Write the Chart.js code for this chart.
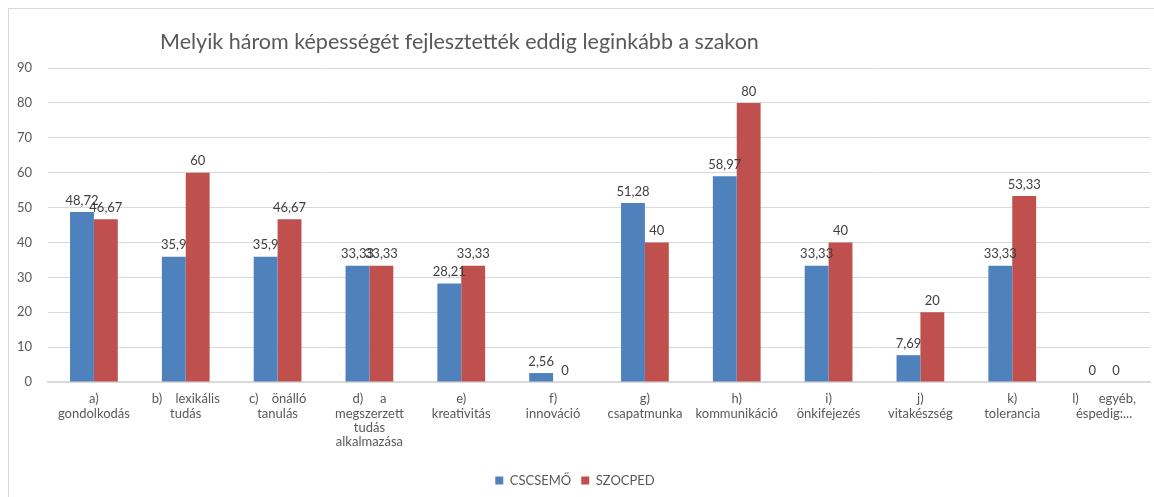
<!DOCTYPE html>
<html>
<head>
<meta charset="utf-8">
<script src="https://cdn.jsdelivr.net/npm/chart.js@4"></script>
<style>
  body { margin: 0; background: #fff; }
  #wrap { position: relative; width: 1154px; height: 497px; overflow: hidden; }
  #frame { position: absolute; left: 8px; top: 8px; width: 1200px; height: 600px;
           border-left: 1px solid #d9d9d9; border-top: 1px solid #d9d9d9; }
</style>
</head>
<body>
<div id="wrap">
  <div id="frame"></div>
  <canvas id="chart" width="1154" height="497"></canvas>
</div>
<script>
var titleText = "Melyik három képességét fejlesztették eddig leginkább a szakon";

var categories = [
  ["a)", "gondolkodás"],
  ["b)    lexikális", "tudás"],
  ["c)    önálló", "tanulás"],
  ["d)     a", "megszerzett", "tudás", "alkalmazása"],
  ["e)", "kreativitás"],
  ["f)", "innováció"],
  ["g)", "csapatmunka"],
  ["h)", "kommunikáció"],
  ["i)", "önkifejezés"],
  ["j)", "vitakészség"],
  ["k)", "tolerancia"],
  ["l)      egyéb,", "éspedig:..."]
];

var cscsemo = [48.72, 35.9, 35.9, 33.33, 28.21, 2.56, 51.28, 58.97, 33.33, 7.69, 33.33, 0];
var szocped = [46.67, 60, 46.67, 33.33, 33.33, 0, 40, 80, 40, 20, 53.33, 0];

var yTicks = [0, 10, 20, 30, 40, 50, 60, 70, 80, 90];

var fontName = "Lato, 'Open Sans', sans-serif";

// title sits left of centre in the original, so draw it by hand
var titlePlugin = {
  id: 'leftTitle',
  afterDraw: function (chart) {
    var ctx = chart.ctx;
    ctx.save();
    ctx.font = "21.5px " + fontName;
    ctx.fillStyle = "#595959";
    ctx.textAlign = "left";
    ctx.textBaseline = "middle";
    ctx.fillText(titleText, 160, 42);
    ctx.restore();
  }
};

// value labels above every bar, with decimal comma
var valuePlugin = {
  id: 'values',
  afterDatasetsDraw: function (chart) {
    var ctx = chart.ctx;
    ctx.save();
    ctx.font = "13px " + fontName;
    ctx.fillStyle = "#404040";
    ctx.textAlign = "center";
    ctx.textBaseline = "bottom";
    chart.data.datasets.forEach(function (ds, i) {
      var meta = chart.getDatasetMeta(i);
      meta.data.forEach(function (bar, j) {
        var txt = String(ds.data[j]).replace('.', ',');
        ctx.fillText(txt, bar.x, bar.y - 5);
      });
    });
    ctx.restore();
  }
};

new Chart(document.getElementById("chart"), {
  type: 'bar',
  data: {
    labels: categories,
    datasets: [
      {
        label: "CSCSEMŐ",
        backgroundColor: "#4f81bd",
        data: cscsemo
      },
      {
        label: "SZOCPED",
        backgroundColor: "#c0504d",
        data: szocped
      }
    ]
  },
  options: {
    responsive: false,
    animation: false,
    layout: { padding: { top: 68, right: 4, left: 0, bottom: 0 } },
    datasets: {
      bar: { categoryPercentage: 0.52, barPercentage: 1.0 }
    },
    plugins: {
      title: { display: false },
      tooltip: { enabled: false },
      legend: {
        position: 'bottom',
        labels: {
          boxWidth: 8,
          boxHeight: 8,
          padding: 10,
          color: "#595959",
          font: { family: fontName, size: 13 }
        }
      }
    },
    scales: {
      x: {
        grid: { display: false, drawTicks: false },
        border: { color: "#d9d9d9", width: 2 },
        ticks: {
          color: "#595959",
          padding: 10,
          maxRotation: 0,
          autoSkip: false,
          font: { family: fontName, size: 13, lineHeight: 1.1 }
        },
        afterFit: function (scale) { scale.height = 82; }
      },
      y: {
        min: 0,
        max: 90,
        afterBuildTicks: function (scale) {
          scale.ticks = yTicks.map(function (v) { return { value: v }; });
        },
        grid: { color: "#d9d9d9", drawTicks: false },
        border: { display: false },
        ticks: {
          color: "#595959",
          padding: 16,
          font: { family: fontName, size: 13 }
        },
        afterFit: function (scale) { scale.width = 48; }
      }
    }
  },
  plugins: [titlePlugin, valuePlugin]
});
</script>
</body>
</html>
